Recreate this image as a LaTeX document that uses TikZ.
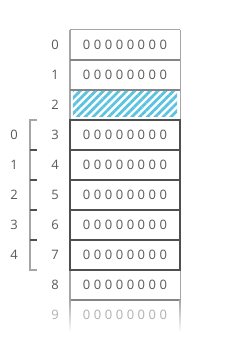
\documentclass[tikz,border=0pt]{standalone}
\usepackage{fontspec}
\setmainfont{Open Sans}
\usetikzlibrary{patterns.meta}
\definecolor{side}{HTML}{A6A6A6}
\definecolor{sep}{HTML}{858585}
\definecolor{dark}{HTML}{4F4F4F}
\definecolor{txt}{HTML}{5A5A5A}
\definecolor{faint}{HTML}{B0B0B0}
\definecolor{hatch}{HTML}{5BC3E1}
\begin{document}
\begin{tikzpicture}[x=1pt,y=-1pt,
  cell/.style={minimum width=110pt,minimum height=30pt,inner sep=0pt,text=txt,
    font=\fontsize{13}{15}\selectfont\addfontfeature{LetterSpace=27}},
  idx/.style={inner sep=0pt,text=txt,font=\fontsize{13}{15}\selectfont},
  light/.style={draw=side,line width=1.4pt},
  mid/.style={draw=sep,line width=1.6pt},
  heavy/.style={draw=dark,line width=1.8pt}]
\useasboundingbox (0,0) rectangle (250,350);
\fill[white] (0,0) rectangle (250,350);
% cells
\foreach \i in {0,...,8}{
  \node[cell] (c\i) at (125,45+30*\i) {\ifnum\i=2\else 00000000\fi};
  \node[idx] (n\i) at (55,45+30*\i) {\i};
}
\node[cell,text=faint] (c9) at (125,315) {00000000};
\node[idx,text=faint] (n9) at (55,315) {9};
% hatch
\fill[pattern={Lines[angle=45,distance=5.5pt,line width=2.8pt]},pattern color=hatch]
  ([shift={(3,2)}]c2.north west) rectangle ([shift={(-3,-4)}]c2.south east);
% light borders rows 0-2
\draw[light] (c0.north west) -- (c0.north east);
\draw[light] (c0.north west) -- (c2.south west);
\draw[light] (c0.north east) -- (c2.south east);
\draw[mid] (c0.south west) -- (c0.south east);
\draw[mid] (c1.south west) -- (c1.south east);
% rows 8-9
\draw[light] (c8.north west) -- (c8.south west);
\draw[light] (c8.north east) -- (c8.south east);
\draw[mid] (c8.south west) -- (c8.south east);
\shade[top color=side,bottom color=white] ([xshift=-0.7pt]c9.north west) rectangle ([xshift=0.7pt,yshift=-2pt]c9.south west);
\shade[top color=side,bottom color=white] ([xshift=-0.7pt]c9.north east) rectangle ([xshift=0.7pt,yshift=-2pt]c9.south east);
% heavy block rows 3-7
\foreach \i in {3,...,6}{\draw[heavy] (c\i.south west) -- (c\i.south east);}
\draw[heavy] (c3.north west) rectangle (c7.south east);
% bracket
\foreach \j in {0,...,4}{
  \node[idx] (b\j) at (14,135+30*\j) {\j};
}
\coordinate (bt) at (30,120);
\coordinate (bb) at (30,270);
\draw[draw=side,line width=1.4pt] ([xshift=7pt]bt) -- (bt) -- (bb) -- ([xshift=7pt]bb);
\foreach \j in {1,...,4}{
  \draw[draw=dark,line width=1.2pt] (30,120+30*\j) -- (37,120+30*\j);
}
\end{tikzpicture}
\end{document}
